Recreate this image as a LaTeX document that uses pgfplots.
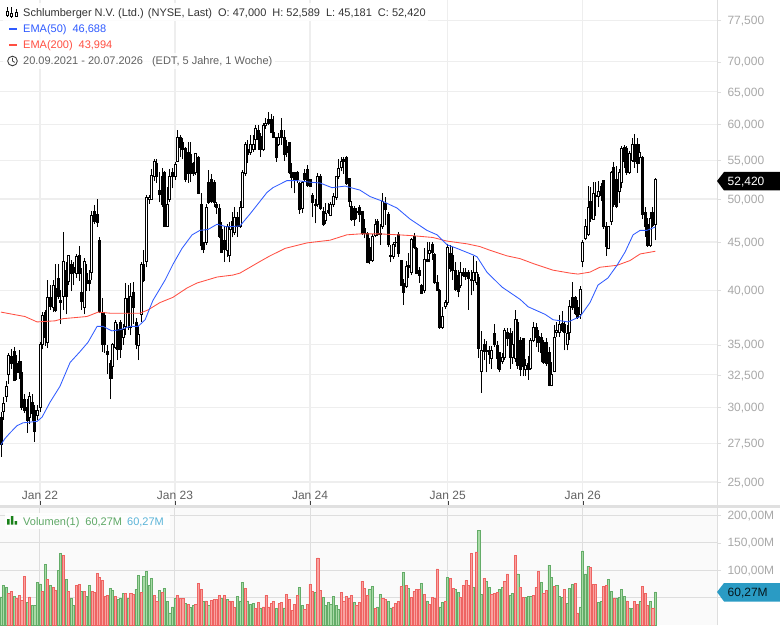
\documentclass[border=0pt]{standalone}
\usepackage{fontspec}
\setmainfont{Liberation Sans}
\usepackage{pgfplots}
\usepackage{pgfplotstable}
\pgfplotsset{compat=1.18}

\definecolor{gridmain}{HTML}{EEEEEE}
\definecolor{gridvol}{HTML}{DEDEDE}
\definecolor{panelvol}{HTML}{FAFAFA}
\definecolor{band}{HTML}{E0E0E0}
\definecolor{ticktxt}{HTML}{A8A8A8}
\definecolor{emablue}{HTML}{2F5BFF}
\definecolor{emared}{HTML}{FF4F42}
\definecolor{volgfill}{HTML}{A8DAA6}
\definecolor{volgline}{HTML}{64AC68}
\definecolor{volrfill}{HTML}{F9A3A1}
\definecolor{volrline}{HTML}{EE6462}
\definecolor{voltxt}{HTML}{5EA866}
\definecolor{volblue}{HTML}{5BB4D8}
\definecolor{tagblue}{HTML}{2A9BC4}

% weekly bars, index 0 = 20.09.2021
\pgfplotstableread{
i o h l c
0 29.3 29.7 26.6 27.4
1 29.7 30.8 29.1 30.3
2 30.8 32.0 30.4 31.6
3 32.5 34.3 31.8 34.1
4 34.0 34.6 33.0 33.4
5 34.4 34.8 32.0 32.1
6 33.4 34.1 32.1 32.7
7 33.6 34.5 32.2 32.7
8 32.7 33.6 29.8 30.0
9 30.6 31.0 29.6 29.8
10 30.0 30.6 28.2 29.1
11 29.3 31.2 28.8 30.8
12 30.4 31.0 29.0 29.6
13 29.8 30.2 27.6 28.3
14 29.4 30.2 29.1 29.8
15 30.0 35.2 29.7 35.0
16 35.0 37.9 34.6 37.6
17 37.9 38.1 34.9 35.6
18 35.2 41.0 34.7 39.3
19 39.3 40.5 38.1 38.4
20 38.3 41.0 37.9 40.5
21 40.2 42.6 37.9 38.1
22 41.2 42.6 39.1 39.4
23 39.0 40.0 36.8 38.8
24 39.4 46.1 38.1 42.9
25 42.0 42.9 37.7 39.4
26 40.9 43.5 40.5 43.5
27 42.6 43.1 39.9 41.7
28 42.3 42.9 40.5 41.8
29 41.7 43.7 41.2 43.4
30 43.6 44.6 40.9 41.7
31 39.8 42.2 38.1 38.9
32 38.3 43.3 37.7 42.9
33 41.7 42.6 39.9 40.7
34 41.0 42.0 39.9 40.7
35 41.8 48.5 41.0 48.0
36 48.5 49.3 47.0 47.3
37 48.1 50.0 46.7 47.2
38 45.2 45.5 37.8 38.0
39 37.9 39.2 34.4 35.0
40 37.6 37.9 34.3 35.0
41 34.4 35.0 32.6 34.2
42 33.4 33.7 30.6 32.2
43 33.2 35.1 32.2 35.0
44 34.8 37.2 34.6 37.0
45 36.3 36.8 33.7 34.6
46 37.0 37.2 33.9 34.6
47 35.6 36.8 35.0 36.3
48 36.6 40.7 35.8 39.2
49 39.2 40.5 36.3 37.9
50 36.5 40.7 35.8 39.4
51 39.8 40.8 36.8 38.3
52 37.0 37.4 34.6 35.0
53 34.9 36.6 33.7 35.9
54 37.7 42.9 37.0 42.6
55 42.6 44.1 40.8 41.0
56 42.9 50.5 42.3 50.2
57 49.9 50.5 49.4 50.2
58 50.0 53.8 50.0 53.0
59 52.8 55.1 52.3 54.8
60 54.6 55.1 52.0 52.8
61 51.1 53.4 49.6 50.6
62 52.8 54.0 49.0 49.4
63 53.4 53.5 46.7 46.8
64 46.8 51.5 46.8 49.3
65 50.0 53.8 49.6 52.9
66 53.4 54.0 51.3 52.8
67 52.8 54.8 52.4 54.4
68 54.8 59.2 54.7 58.2
69 58.2 58.5 55.4 56.7
70 57.5 58.0 55.1 56.4
71 56.6 56.8 52.1 52.5
72 56.0 57.5 52.0 53.2
73 55.7 57.5 52.1 53.2
74 54.6 54.8 52.9 53.2
75 53.3 56.0 53.0 55.9
76 55.4 55.5 50.6 50.7
77 49.3 50.7 44.1 44.6
78 44.9 45.0 43.8 44.2
79 44.9 49.4 44.7 49.0
80 52.1 53.7 49.4 49.6
81 52.4 53.2 49.5 49.7
82 52.1 52.4 49.0 49.6
83 49.4 49.6 48.2 49.0
84 48.9 49.4 45.4 45.6
85 46.4 47.3 43.8 43.9
86 45.2 46.8 42.9 44.2
87 44.1 47.0 43.4 46.7
88 43.5 47.3 42.8 46.4
89 47.3 48.4 45.5 46.4
90 46.1 49.0 45.8 47.8
91 47.8 48.4 45.6 46.7
92 46.7 49.7 46.6 49.0
93 49.0 53.7 48.9 53.3
94 53.2 57.5 52.9 57.2
95 56.4 57.8 54.6 55.7
96 56.1 58.5 55.7 57.2
97 56.5 58.5 56.1 57.2
98 57.8 59.9 56.4 59.4
99 59.1 59.9 56.4 57.8
100 58.3 58.8 55.4 56.4
101 56.4 60.2 56.2 59.9
102 59.9 61.0 59.4 60.2
103 60.8 61.9 59.9 60.1
104 60.8 61.5 58.8 58.8
105 58.8 61.2 58.0 58.2
106 58.2 58.2 54.8 55.4
107 57.1 58.8 56.9 58.2
108 59.1 61.0 57.1 58.2
109 58.2 59.2 54.9 55.7
110 56.9 57.8 55.4 56.1
111 57.4 57.4 53.1 53.3
112 53.4 54.6 51.3 52.7
113 53.3 53.4 50.7 52.5
114 53.4 53.6 52.0 52.4
115 52.0 52.1 48.2 48.7
116 48.9 52.3 48.3 52.1
117 53.2 53.8 52.1 52.4
118 53.8 54.3 51.5 51.7
119 52.4 52.5 51.5 51.6
120 50.5 50.7 47.8 49.6
121 49.4 50.0 47.1 49.2
122 49.3 53.3 49.0 52.8
123 52.8 53.2 48.7 48.9
124 48.5 49.0 46.8 47.0
125 47.4 49.5 47.0 48.3
126 48.6 49.5 48.2 48.4
127 48.0 49.6 47.9 49.3
128 49.3 50.7 49.0 50.3
129 50.2 52.8 49.9 52.8
130 52.8 55.1 52.5 53.9
131 54.0 55.4 53.5 54.8
132 55.1 55.4 53.2 54.8
133 55.3 55.6 51.7 52.0
134 52.6 52.7 49.0 49.7
135 49.1 49.8 47.4 47.6
136 48.9 49.2 46.8 47.6
137 48.5 48.9 47.6 48.4
138 49.0 49.3 47.3 48.2
139 48.5 48.6 45.8 46.0
140 46.5 47.6 45.4 46.0
141 46.0 46.1 42.7 42.8
142 44.4 45.4 42.6 43.0
143 43.0 45.9 42.9 45.6
144 45.7 47.6 45.5 47.0
145 47.3 47.6 45.7 45.8
146 46.0 47.0 44.7 45.9
147 46.7 50.7 46.5 49.7
148 49.5 50.2 46.9 48.7
149 48.2 48.4 44.4 44.7
150 43.6 44.7 42.8 43.4
151 43.4 45.0 43.2 44.7
152 45.0 45.6 44.5 44.9
153 45.9 46.1 43.4 43.8
154 43.0 43.1 40.4 40.5
155 40.7 41.1 38.6 39.8
156 40.4 43.0 40.2 42.4
157 42.5 43.8 41.2 42.3
158 41.8 45.4 41.5 45.3
159 45.6 46.0 44.2 44.4
160 44.3 44.5 41.6 41.7
161 42.0 42.3 40.7 41.5
162 40.5 40.6 39.6 39.7
163 40.0 44.3 39.7 43.1
164 43.1 45.0 42.8 42.9
165 43.8 45.0 42.8 44.1
166 44.7 45.0 43.1 43.9
167 43.7 43.8 40.6 40.8
168 40.8 41.5 39.9 40.0
169 40.0 40.1 36.4 36.5
170 36.5 38.4 36.4 37.5
171 38.4 39.0 38.2 38.8
172 38.8 44.8 38.6 44.4
173 43.8 44.7 41.8 42.2
174 43.6 44.4 41.0 42.0
175 42.0 42.8 39.9 40.1
176 41.5 42.0 39.3 39.9
177 40.5 42.8 40.2 41.8
178 41.8 42.2 41.3 41.5
179 41.8 42.2 41.0 41.4
180 41.8 42.0 38.1 41.2
181 41.1 42.0 39.5 41.0
182 41.0 43.5 39.9 41.8
183 40.8 43.0 40.5 41.8
184 41.3 41.6 33.9 34.7
185 32.8 36.2 31.1 34.5
186 35.0 35.5 33.7 34.4
187 34.5 35.3 32.7 34.4
188 34.5 34.9 33.4 34.2
189 33.8 34.9 33.0 34.5
190 36.0 36.8 34.8 35.0
191 34.9 35.3 33.0 33.8
192 34.3 34.3 32.7 32.9
193 33.6 34.3 33.4 33.9
194 33.9 36.5 33.7 36.2
195 36.1 36.5 34.9 35.5
196 36.0 36.5 33.0 33.9
197 33.9 36.2 33.4 35.0
198 33.8 38.1 33.5 37.2
199 37.0 37.3 33.0 33.3
200 35.4 35.7 32.4 32.9
201 35.5 35.6 32.4 33.2
202 32.9 33.8 32.4 33.3
203 33.4 34.0 32.1 32.9
204 33.0 35.6 32.9 35.4
205 35.4 37.0 35.2 36.5
206 36.5 36.9 34.8 35.6
207 35.7 36.3 34.4 35.2
208 35.6 36.0 33.5 34.3
209 35.2 35.4 33.4 33.5
210 35.2 35.6 33.2 33.4
211 34.3 34.8 31.6 31.7
212 31.7 33.5 31.6 32.5
213 32.8 36.7 32.7 35.6
214 36.1 37.0 35.7 36.2
215 36.1 37.6 35.7 36.8
216 36.9 38.0 36.1 36.2
217 36.8 37.0 34.5 36.1
218 35.0 36.7 34.5 36.0
219 36.1 39.0 35.4 38.4
220 39.3 40.8 38.1 38.3
221 39.3 39.4 37.6 37.8
222 38.3 39.0 37.3 37.4
223 37.7 40.4 37.3 40.1
224 42.9 45.2 42.3 45.0
225 45.4 47.6 45.2 46.8
226 45.9 51.6 45.7 49.0
227 49.7 51.5 47.3 47.7
228 47.6 52.1 47.5 50.7
229 50.3 52.1 48.0 50.5
230 50.3 52.2 49.0 50.9
231 51.5 52.0 49.8 50.5
232 52.3 52.4 46.5 46.8
233 46.7 47.3 43.5 44.5
234 44.3 46.8 44.2 46.7
235 47.3 53.6 46.9 53.4
236 54.0 54.8 49.0 49.3
237 52.4 54.2 48.9 49.1
238 50.9 53.8 49.5 53.4
239 52.1 56.9 51.3 56.6
240 56.8 57.1 54.0 54.8
241 56.6 56.9 53.0 53.3
242 53.4 56.2 53.2 55.9
243 55.0 58.0 54.8 57.2
244 57.2 58.7 54.0 54.8
245 57.1 58.0 53.3 54.5
246 55.4 57.2 54.5 56.1
247 55.4 55.6 47.6 48.1
248 48.4 49.0 45.6 46.8
249 47.0 47.7 44.5 44.6
250 44.6 48.4 44.5 47.7
251 48.4 49.0 46.7 46.9
252 47.0 52.589 45.181 52.42
}\candles

\begin{document}
\begin{tikzpicture}
\path[use as bounding box] (0,0) rectangle (780pt,625pt);

% price panel
\begin{axis}[
  at={(0pt,120pt)}, anchor=south west,
  scale only axis, width=717.5pt, height=505pt,
  xmin=-0.385, xmax=275.9,
  ymode=log, ymin=23.63, ymax=81.4,
  axis line style={draw=none},
  xtick={15,67,119,172,224},
  xticklabels={Jan 22,Jan 23,Jan 24,Jan 25,Jan 26},
  ytick={25,27.5,30,32.5,35,40,45,50,55,60,65,70,77.5},
  yticklabels={{25,000},{27,500},{30,000},{32,500},{35,000},{40,000},{45,000},{50,000},{55,000},{60,000},{65,000},{70,000},{77,500}},
  minor tick num=0, log basis y=10,
  ytick pos=right, yticklabel pos=right, xtick pos=bottom,
  tick align=outside, major tick length=3.5pt,
  xtick style={draw=black!75, yshift=3.5pt},
  ytick style={draw=gridvol},
  xmajorgrids, ymajorgrids,
  major grid style={draw=gridmain, line width=1.1pt},
  yticklabel style={font=\fontsize{12}{14}\selectfont, text=ticktxt, xshift=3pt, yshift=-0.8pt},
  xticklabel style={font=\fontsize{12}{14}\selectfont, text=black!62, anchor=south, yshift=5pt},
  clip=true,
]
% wicks
\addplot[draw=none, no marks, forget plot,
  error bars/.cd, y dir=plus, y explicit, error mark=none,
  error bar style={draw=black, line width=0.8pt}]
  table[x=i, y=l, y error plus expr={\thisrow{h}-\thisrow{l}}] {\candles};
% rising weeks, hollow
\addplot[draw=none, no marks, forget plot,
  error bars/.cd, y dir=plus, y explicit,
  draw error bar/.code 2 args={%
    \path ##1 coordinate (cb); \path ##2 coordinate (ct);
    \draw[draw=black, fill=white, line width=0.8pt] ([xshift=-1pt]cb) rectangle ([xshift=1pt]ct);}]
  table[x expr={\thisrow{c}>=\thisrow{o} ? \thisrow{i} : nan}, y=o, y error plus expr={\thisrow{c}-\thisrow{o}+0.001}] {\candles};
% falling weeks, filled
\addplot[draw=none, no marks, forget plot,
  error bars/.cd, y dir=plus, y explicit,
  draw error bar/.code 2 args={%
    \path ##1 coordinate (cb); \path ##2 coordinate (ct);
    \draw[draw=black, fill=black, line width=0.8pt] ([xshift=-1pt]cb) rectangle ([xshift=1pt]ct);}]
  table[x expr={\thisrow{c}<\thisrow{o} ? \thisrow{i} : nan}, y=c, y error plus expr={\thisrow{o}-\thisrow{c}}] {\candles};
% EMA 200
\addplot[emared, line width=0.85pt, forget plot] coordinates {
(0,37.9)(4.6,37.7)(9.2,37.5)(13.9,37.0)(20.8,37.1)(23.9,37.3)(33.1,37.5)(37.4,37.9)(42,37.8)(53.5,37.8)
(56.6,38.1)(61.2,38.8)(66.2,39.3)(71.6,40.2)(75.5,40.7)(83.2,41.3)(89.3,41.5)(92,41.7)(95.9,42.3)(99.7,42.9)
(103.6,43.5)(109.4,44.3)(117.8,44.9)(126.7,45.2)(133.2,45.8)(138.2,45.9)(146,45.9)(152.9,45.8)(158.6,45.7)
(166.3,45.5)(171.7,45.1)(179.4,44.8)(184.4,44.5)(188.3,44.1)(194.8,43.5)(199.9,43.2)(204.8,42.7)(212.6,42.0)
(219.1,41.7)(222.2,41.6)(226.8,41.8)(230.6,42.3)(237.2,42.5)(242.2,43.0)(246.1,43.7)(252,43.994)};
% EMA 50
\addplot[emablue, line width=0.85pt, forget plot] coordinates {
(0,27.4)(1.5,27.8)(3.5,28.2)(6.2,28.7)(8.5,28.9)(13.9,29.0)(15.8,29.3)(18.9,30.4)(22.7,31.6)(26.6,33.5)
(30.4,34.4)(33.5,35.2)(37,36.6)(39.3,36.6)(42.7,36.2)(45.8,36.3)(49.7,36.6)(52.8,36.6)(55.5,37.2)(58.5,39.0)
(63.2,41.0)(66.2,42.6)(69.7,44.3)(73.6,45.8)(76.6,46.3)(79.7,46.4)(83.2,47.0)(87,46.7)(92,46.8)(95.9,48.2)
(99.7,49.7)(102.4,50.8)(104.7,51.4)(110.1,52.3)(114,52.3)(119,52.1)(122.8,52.0)(127.5,51.4)(132.5,51.6)
(138.2,51.1)(142.1,50.3)(147.1,49.7)(152.5,48.9)(157.5,47.6)(164,46.3)(167.9,45.8)(171.7,44.7)(175.6,44.3)
(181.8,43.6)(183.3,43.4)(187.1,41.8)(192.9,40.3)(199.9,39.1)(203,38.4)(209.5,37.7)(212.6,37.2)(218.4,37.0)
(223,37.5)(226.8,38.8)(229.9,40.5)(233.7,41.2)(237.2,42.5)(240.3,43.9)(243.4,45.8)(246.1,46.3)(248.7,46.3)(252,46.688)};
\end{axis}

% volume panel
\begin{axis}[
  at={(0pt,0pt)}, anchor=south west,
  scale only axis, width=717.5pt, height=117pt,
  xmin=-0.385, xmax=275.9, ymin=0, ymax=213,
  axis line style={draw=none},
  axis background/.style={fill=panelvol},
  xtick={15,67,119,172,224}, xticklabels={},
  ytick={50,100,150,200},
  yticklabels={,{100,00M},{150,00M},{200,00M}},
  ytick pos=right, yticklabel pos=right,
  tick align=outside, major tick length=3.5pt,
  x tick style={draw=none},
  ytick style={draw=gridvol},
  xmajorgrids, ymajorgrids,
  major grid style={draw=gridvol, line width=1pt},
  yticklabel style={font=\fontsize{12}{14}\selectfont, text=ticktxt, xshift=3pt, yshift=-0.8pt},
  ybar, bar width=2.1pt,
]
\addplot[bar shift=0pt, draw=volgline, fill=volgfill, line width=0.6pt, forget plot] coordinates {
(0,51)(1,72)(2,68)(5,52)(10,41)(12,35)(13,35)(14,78)(15,75)(17,111)(19,72)(22,99)(23,130)(25,83)(27,48)(28,35)
(31,61)(33,52)(34,72)(42,67)(43,63)(45,46)(46,49)(47,57)(49,48)(52,65)(53,91)(55,89)(56,98)(57,72)(58,85)(61,63)
(63,67)(64,43)(65,22)(66,33)(67,49)(71,40)(73,32)(74,35)(78,43)(80,35)(85,49)(87,46)(91,52)(92,44)(93,78)(95,44)
(96,37)(97,40)(100,31)(106,30)(109,31)(115,68)(116,35)(121,59)(124,50)(125,35)(126,41)(127,37)(128,52)(129,35)
(130,28)(136,41)(142,65)(143,70)(145,33)(146,56)(149,43)(150,31)(155,96)(157,67)(162,76)(164,44)(169,33)(170,41)
(172,87)(175,65)(176,59)(182,68)(184,172)(185,56)(187,80)(188,68)(192,65)(193,68)(196,54)(197,57)(199,93)(202,50)
(203,52)(204,52)(208,78)(211,109)(212,87)(214,72)(215,52)(216,50)(218,39)(219,67)(220,74)(223,33)(224,135)(225,93)
(226,107)(230,41)(231,43)(234,83)(235,61)(237,48)(238,50)(239,65)(240,52)(242,31)(243,30)(246,43)(250,43)(252,60.27)};
\addplot[bar shift=0pt, draw=volrline, fill=volrfill, line width=0.6pt, forget plot] coordinates {
(3,57)(4,61)(6,48)(7,54)(8,45)(9,89)(11,51)(16,61)(18,83)(20,68)(21,63)(24,126)(26,61)(29,72)(30,74)(32,61)
(35,61)(36,60)(37,94)(38,87)(39,81)(40,52)(41,54)(44,52)(48,57)(50,57)(51,55)(54,59)(59,54)(60,43)(62,60)(68,54)
(69,49)(70,49)(72,37)(75,37)(76,76)(77,65)(79,44)(81,45)(82,46)(83,46)(84,54)(86,54)(88,44)(89,43)(90,32)(94,66)
(98,30)(99,41)(101,33)(102,54)(103,33)(104,39)(105,43)(107,39)(108,41)(110,56)(111,46)(112,26)(113,37)(114,54)
(117,28)(118,37)(119,74)(120,61)(122,122)(123,63)(131,59)(132,44)(133,52)(134,48)(135,54)(137,35)(138,41)(139,80)
(140,67)(141,54)(144,30)(147,48)(148,46)(151,33)(152,39)(153,43)(154,70)(156,72)(158,50)(159,61)(160,65)(161,65)
(163,56)(165,37)(166,50)(167,48)(168,102)(171,44)(173,85)(174,67)(177,50)(178,72)(179,81)(180,72)(181,131)(183,133)
(186,85)(189,56)(190,57)(191,59)(194,80)(195,93)(198,126)(200,68)(201,50)(205,54)(206,68)(207,98)(209,57)(210,63)
(213,70)(217,65)(221,76)(222,22)(227,105)(228,74)(229,74)(232,70)(233,72)(236,48)(241,44)(244,43)(245,37)(247,70)
(248,57)(249,35)(251,31)};
\end{axis}

% panel band and right-hand scale line
\fill[band] (0pt,117pt) rectangle (780pt,120pt);
\draw[gridvol, line width=1pt] (717.5pt,0pt) -- (717.5pt,625pt);

% value tags
\fill[black] (717pt,444pt) -- (724pt,453pt) -- (780pt,453pt) -- (780pt,434.5pt) -- (724pt,434.5pt) -- cycle;
\node[anchor=base west, inner sep=0pt, text=white, font=\fontsize{12}{14}\selectfont] at (727.5pt,439.5pt) {52,420};
\fill[tagblue] (717pt,33pt) -- (724pt,42pt) -- (780pt,42pt) -- (780pt,23.5pt) -- (724pt,23.5pt) -- cycle;
\node[anchor=base west, inner sep=0pt, text=black!85!tagblue, font=\fontsize{12}{14}\selectfont] at (727.5pt,28.5pt) {60,27M};

% legend block
\tikzset{lg/.style={anchor=base west, inner sep=0pt, font=\fontsize{11}{14}\selectfont}}
\fill[white, opacity=0.85] (3pt,604pt) rectangle (428pt,622pt);
\fill[white, opacity=0.85] (3pt,588pt) rectangle (116pt,604pt);
\fill[white, opacity=0.85] (3pt,572pt) rectangle (116pt,588pt);
\fill[white, opacity=0.85] (3pt,556pt) rectangle (275pt,572pt);
\node[lg, text=black!80] at (23pt,608pt) {Schlumberger N.V. (Ltd.) (NYSE, Last)\hspace{6pt}O: 47,000\hspace{6pt}H: 52,589\hspace{6pt}L: 45,181\hspace{6pt}C: 52,420};
\node[lg, text=emablue] at (23pt,592pt) {EMA(50)\hspace{6pt}46,688};
\node[lg, text=emared] at (23pt,576pt) {EMA(200)\hspace{6pt}43,994};
\node[lg, text=black!62] at (23pt,560pt) {20.09.2021 - 20.07.2026\hspace{9pt}(EDT, 5 Jahre, 1 Woche)};
% small icons
\draw[black, line width=0.8pt] (7pt,608pt) -- (7pt,618pt) (11.5pt,607pt) -- (11.5pt,618pt) (16pt,608pt) -- (16pt,616pt);
\draw[black, fill=white, line width=0.8pt] (6pt,610pt) rectangle (8pt,614pt) (10.5pt,609pt) rectangle (12.5pt,612pt) (15pt,609pt) rectangle (17pt,613pt);
\fill[emablue] (9pt,594.5pt) rectangle (17pt,597pt);
\fill[emared] (9pt,578.5pt) rectangle (17pt,581pt);
\draw[black!75, line width=0.9pt] (12.5pt,564pt) circle (4.8pt);
\draw[black!75, line width=0.8pt] (12.5pt,567pt) -- (12.5pt,564pt) -- (14.7pt,562.6pt);
% volume legend
\fill[white, opacity=0.9] (5pt,96pt) rectangle (170pt,112pt);
\fill[green!45!black!90] (7pt,100.5pt) rectangle (9.6pt,106pt) (10.8pt,100.5pt) rectangle (13.4pt,109pt) (14.6pt,100.5pt) rectangle (17.2pt,104pt);
\node[lg, text=voltxt] at (23pt,100pt) {Volumen(1)\hspace{6pt}60,27M};
\node[lg, text=volblue] at (127pt,100pt) {60,27M};
\end{tikzpicture}
\end{document}
